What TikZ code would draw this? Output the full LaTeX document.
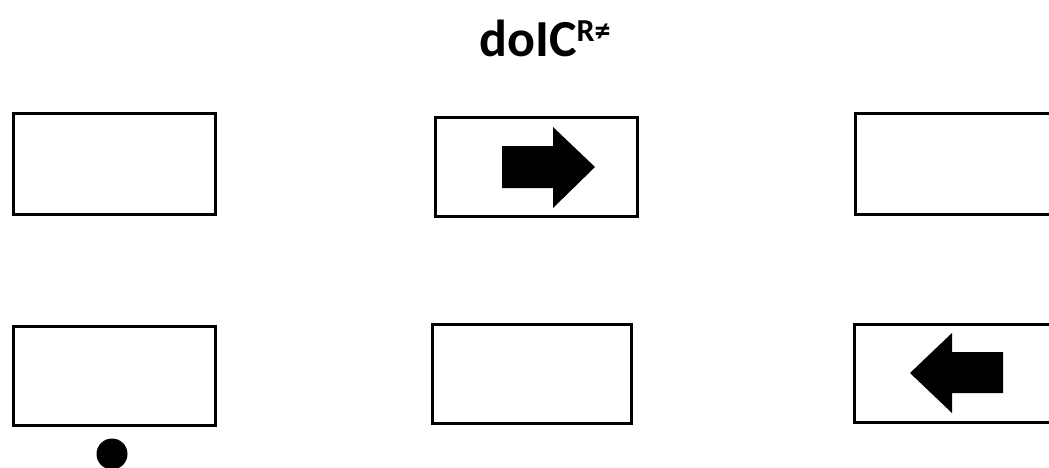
\documentclass[tikz,border=0pt]{standalone}
\usepackage{fontspec}
\setmainfont{Carlito}
\begin{document}
\begin{tikzpicture}[x=1pt,y=-1pt,
  panel/.style={draw=black,line width=3pt,fill=white},
  blockarrow/.style={fill=black,draw=none}]
\useasboundingbox (0,0) rectangle (1049,468);
\fill[white] (0,0) rectangle (1049,468);
\node[anchor=base,inner sep=0pt,font=\fontsize{52}{60}\selectfont\bfseries] (title) at (545,57) {doIC\raisebox{0.3em}{\fontsize{32}{38}\selectfont R≠}};
% top row
\draw[panel] (13,114) rectangle (215,214) coordinate (b1);
\draw[panel] (435,118) rectangle (637,216) coordinate (b2);
\draw[panel] (855,114) rectangle (1060,214) coordinate (b3);
% bottom row
\draw[panel] (13,326) rectangle (215,425) coordinate (b4);
\draw[panel] (432,324) rectangle (631,423) coordinate (b5);
\draw[panel] (854,324) rectangle (1060,422) coordinate (b6);
% right arrow
\fill[blockarrow] (502,146) -- (553,146) -- (553,127) -- (595,167) -- (553,208) -- (553,188) -- (502,188) -- cycle;
% left arrow
\fill[blockarrow] (1003,352) -- (952,352) -- (952,333) -- (910,373) -- (952,413) -- (952,393) -- (1003,393) -- cycle;
% dot
\fill[black] (112,454) circle (15.5);
\end{tikzpicture}
\end{document}
